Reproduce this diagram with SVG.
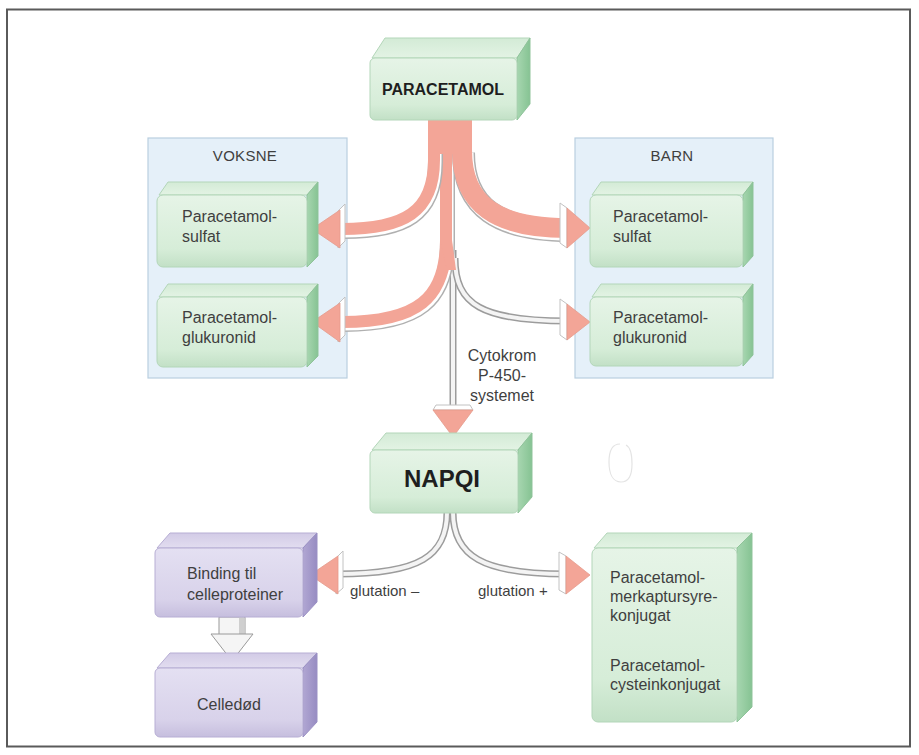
<svg xmlns="http://www.w3.org/2000/svg" width="919" height="755" viewBox="0 0 919 755">
<defs>
<linearGradient id="gf" x1="0" y1="0" x2="0" y2="1">
<stop offset="0" stop-color="#e6f4e7"/><stop offset="0.75" stop-color="#d6edd8"/><stop offset="1" stop-color="#c2e0c6"/>
</linearGradient>
<linearGradient id="gt" x1="0" y1="0" x2="0" y2="1">
<stop offset="0" stop-color="#d3ebd6"/><stop offset="1" stop-color="#e3f3e4"/>
</linearGradient>
<linearGradient id="gs" x1="0" y1="0" x2="1" y2="0">
<stop offset="0" stop-color="#a7d6b0"/><stop offset="1" stop-color="#86c393"/>
</linearGradient>
<linearGradient id="pf" x1="0" y1="0" x2="0" y2="1">
<stop offset="0" stop-color="#e4e0f2"/><stop offset="0.75" stop-color="#d8d2ea"/><stop offset="1" stop-color="#c6bede"/>
</linearGradient>
<linearGradient id="pt" x1="0" y1="0" x2="0" y2="1">
<stop offset="0" stop-color="#d2cbe6"/><stop offset="1" stop-color="#e2ddf0"/>
</linearGradient>
<linearGradient id="ps" x1="0" y1="0" x2="1" y2="0">
<stop offset="0" stop-color="#b1a7d3"/><stop offset="1" stop-color="#978cc2"/>
</linearGradient>
<style>
text{font-family:"Liberation Sans",Arial,sans-serif;fill:#3f3f3f;}
.lab{font-size:16px;}
.small{font-size:15px;}
.hd{font-size:15px;letter-spacing:0.3px;}
.bold{font-weight:bold;fill:#1e1e1e;}
.panel{fill:#e5f0f9;stroke:#b9cfe0;stroke-width:1.2;}
.gfront{fill:url(#gf);stroke:#b3d6b9;stroke-width:1;}
.gtop{fill:url(#gt);stroke:#b3d6b9;stroke-width:1;}
.gside{fill:url(#gs);stroke:#8fc39a;stroke-width:1;}
.pfront{fill:url(#pf);stroke:#b7aed4;stroke-width:1;}
.ptop{fill:url(#pt);stroke:#b7aed4;stroke-width:1;}
.pside{fill:url(#ps);stroke:#9a90c4;stroke-width:1;}
.pk{fill:none;stroke:#f3a597;stroke-linecap:butt;}
.shg{fill:none;stroke:#b0b0b0;}
.shw{fill:none;stroke:#ffffff;}
.rbg{fill:none;stroke:#9c9c9c;stroke-width:7;}
.rbw{fill:none;stroke:#f4f4f4;stroke-width:4;}
.head{fill:#f3a597;stroke:#e59a8c;stroke-width:0.8;}
.flap{fill:#ffffff;stroke:#c2c2c2;stroke-width:1;}
</style>
</defs>
<rect x="0" y="0" width="919" height="755" fill="#ffffff"/>
<rect x="7" y="9.5" width="903" height="737" fill="none" stroke="#5a5a5a" stroke-width="2"/>

<g id="panel-voksne">
<rect class="panel" x="148" y="138" width="199" height="240"/>
<text class="hd" x="245" y="161" text-anchor="middle">VOKSNE</text>
</g>
<g id="panel-barn">
<rect class="panel" x="575" y="138" width="198" height="240"/>
<text class="hd" x="672" y="161" text-anchor="middle">BARN</text>
</g>

<g id="connectors">
<path class="rbg" d="M453 250 L453 412"/>
<path class="rbw" d="M453 250 L453 412"/>
<path class="rbg" d="M455 258 C455 305 482 321 568 321"/>
<path class="rbw" d="M455 258 C455 305 482 321 568 321"/>
<g transform="translate(1.5,2.5)">
<path class="shg" stroke-width="15" d="M446 150 L446 240 C446 298 418 322 342 322"/>
<path class="shw" stroke-width="12" d="M446 150 L446 240 C446 298 418 322 342 322"/>
</g>
<path class="pk" stroke-width="12" d="M446 125 L446 240 C446 298 418 322 342 322"/>
<path fill="#f3a597" d="M440 240 L452 240 L456 270 L447 270 Z"/>
<g transform="translate(1.5,2.5)">
<path class="shg" stroke-width="15" d="M434 150 L434 160 C434 212 404 229 342 229"/>
<path class="shw" stroke-width="12" d="M434 150 L434 160 C434 212 404 229 342 229"/>
</g>
<path class="pk" stroke-width="12" d="M434 125 L434 160 C434 212 404 229 342 229"/>
<g transform="translate(1.5,2.5)">
<path class="shg" stroke-width="23" d="M462 150 C462 205 497 228 568 228"/>
<path class="shw" stroke-width="20" d="M462 150 C462 205 497 228 568 228"/>
</g>
<path class="pk" stroke-width="20" d="M462 125 L462 150 C462 205 497 228 568 228"/>
<rect x="428" y="120" width="44" height="34" fill="#f3a597"/>
<polygon class="flap" points="338,211 345,204 345,241 338,248"/>
<polygon class="head" points="340,210 312,229 340,248"/>
<polygon class="flap" points="338,304 345,297 345,335 338,342"/>
<polygon class="head" points="340,303 312,322 340,342"/>
<polygon class="flap" points="560,203 567,208 567,248 560,243"/>
<polygon class="head" points="567,208 590,228 567,248"/>
<polygon class="flap" points="560,299 567,304 567,340 560,335"/>
<polygon class="head" points="567,304 590,322 567,340"/>
<polygon class="flap" points="436,405 470,405 473,410 433,410"/>
<polygon class="head" points="433,410 473,410 453,437"/>
<path class="rbg" d="M447 512 C447 556 420 574 338 574"/>
<path class="rbw" d="M447 512 C447 556 420 574 338 574"/>
<path class="rbg" d="M453 512 C453 556 482 574 566 574"/>
<path class="rbw" d="M453 512 C453 556 482 574 566 574"/>
<polygon class="flap" points="336,558 343,551 343,588 336,594"/>
<polygon class="head" points="338,556 310,575 338,594"/>
<polygon class="flap" points="559,552 566,556 566,594 559,590"/>
<polygon class="head" points="566,556 590,575 566,594"/>
<rect x="219" y="617" width="26" height="19" fill="#f5f5f5" stroke="#9a9a9a" stroke-width="1"/>
<rect x="239" y="617.5" width="5.5" height="18" fill="#cfcfcf"/>
<polygon points="211,634 253,634 232,661" fill="#f5f5f5" stroke="#9a9a9a" stroke-width="1"/>
</g>

<g id="node-paracetamol">
<path class="gtop" d="M372 58 L385 38 L530 38 L517 58 Z"/>
<path class="gside" d="M517 58 L530 38 L530 104 L517 120 Z"/>
<rect class="gfront" x="370" y="58" width="147" height="62" rx="5"/>
<text class="bold" x="443" y="95" text-anchor="middle" font-size="16">PARACETAMOL</text>
</g>

<g id="node-voksne-sulfat">
<path class="gtop" d="M159 195 L168 182 L318 182 L307 195 Z"/>
<path class="gside" d="M307 195 L318 182 L318 256 L307 267 Z"/>
<rect class="gfront" x="157" y="195" width="150" height="72" rx="6"/>
<text class="lab" x="182" y="222">Paracetamol-</text>
<text class="lab" x="182" y="242">sulfat</text>
</g>

<g id="node-voksne-glukuronid">
<path class="gtop" d="M159 297 L168 284 L318 284 L307 297 Z"/>
<path class="gside" d="M307 297 L318 284 L318 356 L307 367 Z"/>
<rect class="gfront" x="157" y="297" width="150" height="70" rx="6"/>
<text class="lab" x="182" y="323">Paracetamol-</text>
<text class="lab" x="182" y="343">glukuronid</text>
</g>

<g id="node-barn-sulfat">
<path class="gtop" d="M592 195 L601 182 L753 182 L743 195 Z"/>
<path class="gside" d="M743 195 L753 182 L753 256 L743 267 Z"/>
<rect class="gfront" x="590" y="195" width="153" height="72" rx="6"/>
<text class="lab" x="613" y="222">Paracetamol-</text>
<text class="lab" x="613" y="242">sulfat</text>
</g>

<g id="node-barn-glukuronid">
<path class="gtop" d="M592 297 L601 284 L753 284 L743 297 Z"/>
<path class="gside" d="M743 297 L753 284 L753 355 L743 366 Z"/>
<rect class="gfront" x="590" y="297" width="153" height="69" rx="6"/>
<text class="lab" x="613" y="323">Paracetamol-</text>
<text class="lab" x="613" y="343">glukuronid</text>
</g>

<g id="label-cytokrom">
<text class="lab" x="502" y="361" text-anchor="middle">Cytokrom</text>
<text class="lab" x="502" y="381" text-anchor="middle">P-450-</text>
<text class="lab" x="502" y="401" text-anchor="middle">systemet</text>
</g>

<g id="node-napqi">
<path class="gtop" d="M372 450 L386 433 L532 433 L518 450 Z"/>
<path class="gside" d="M518 450 L532 433 L532 497 L518 513 Z"/>
<rect class="gfront" x="370" y="450" width="148" height="63" rx="5"/>
<text class="bold" x="442" y="487" text-anchor="middle" font-size="24">NAPQI</text>
</g>

<path d="M620 444 C612 444 609 452 609 462 C609 474 613 482 621 482 C629 482 632 474 632 464 C632 455 630 447 626 445" fill="none" stroke="#e4e4e4" stroke-width="1.2"/>

<g id="label-glutation-minus">
<text class="small" x="350" y="596">glutation –</text>
</g>
<g id="label-glutation-plus">
<text class="small" x="478" y="596">glutation +</text>
</g>

<g id="node-binding">
<path class="ptop" d="M157 548 L170 533 L317 533 L303 548 Z"/>
<path class="pside" d="M303 548 L317 533 L317 602 L303 617 Z"/>
<rect class="pfront" x="155" y="548" width="148" height="69" rx="5"/>
<text class="lab" x="187" y="579">Binding til</text>
<text class="lab" x="187" y="600">celleproteiner</text>
</g>

<g id="node-celledod">
<path class="ptop" d="M157 668 L170 653 L317 653 L303 668 Z"/>
<path class="pside" d="M303 668 L317 653 L317 722 L303 737 Z"/>
<rect class="pfront" x="155" y="668" width="148" height="69" rx="5"/>
<text class="lab" x="229" y="710" text-anchor="middle">Celledød</text>
</g>

<g id="node-konjugat">
<path class="gtop" d="M594 548 L607 533 L752 533 L737 548 Z"/>
<path class="gside" d="M737 548 L752 533 L752 707 L737 722 Z"/>
<rect class="gfront" x="592" y="548" width="145" height="174" rx="6"/>
<text class="lab" x="610" y="583">Paracetamol-</text>
<text class="lab" x="610" y="602">merkaptursyre-</text>
<text class="lab" x="610" y="621">konjugat</text>
<text class="lab" x="610" y="671">Paracetamol-</text>
<text class="lab" x="610" y="690">cysteinkonjugat</text>
</g>
</svg>
